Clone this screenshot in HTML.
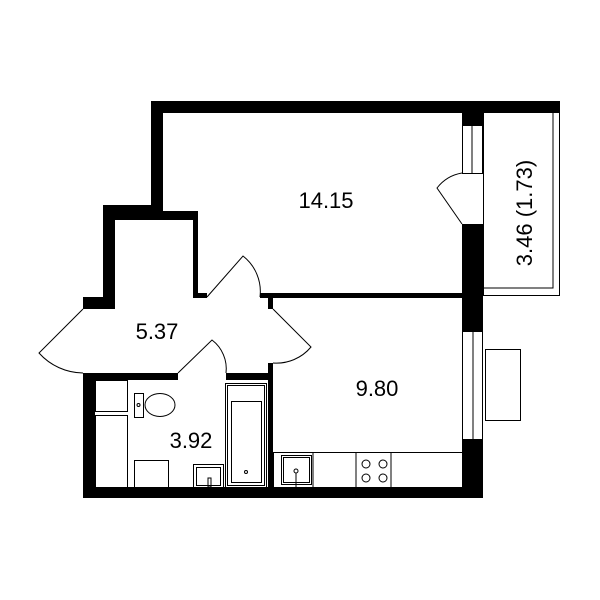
<!DOCTYPE html>
<html><head><style>html,body{margin:0;padding:0;background:#fff}svg{display:block}</style></head>
<body>
<svg width="600" height="600" viewBox="0 0 600 600" xmlns="http://www.w3.org/2000/svg">
<rect width="600" height="600" fill="#fff"/>
<g fill="#000">
<rect x="151" y="101" width="332" height="12"/>
<rect x="151" y="101" width="12" height="119"/>
<rect x="103" y="205" width="60" height="15"/>
<rect x="151" y="211" width="47" height="9"/>
<rect x="193" y="211" width="5" height="87"/>
<rect x="193" y="293" width="14" height="5"/>
<rect x="103" y="205" width="12" height="104"/>
<rect x="83" y="297" width="32" height="12"/>
<rect x="462" y="101" width="21" height="24"/>
<rect x="462" y="224" width="21" height="107"/>
<rect x="462" y="439" width="21" height="59"/>
<rect x="260" y="293" width="202" height="5"/>
<rect x="268" y="293" width="5" height="16"/>
<rect x="268" y="363" width="5" height="130"/>
<rect x="83" y="373" width="12" height="125"/>
<rect x="83" y="487" width="400" height="11"/>
<rect x="95" y="373" width="83" height="7"/>
<rect x="226" y="373" width="47" height="7"/>
<rect x="483" y="101" width="77" height="12"/>
</g>
<g fill="none" stroke="#000" stroke-width="1">
<rect x="462.5" y="125.5" width="20" height="48"/>
<line x1="472" y1="125" x2="472" y2="173"/>
<rect x="462.5" y="331.5" width="20" height="108"/>
<line x1="473" y1="331" x2="473" y2="439"/>
<rect x="483.5" y="101.5" width="76" height="194"/>
<polyline points="483,288 553,288 553,108"/>
<rect x="485.5" y="349.5" width="35" height="71"/>
<path d="M83 309 L39 353 A60 60 0 0 0 83 373"/>
<path d="M178 373 L212 340 A36 36 0 0 1 226 373"/>
<path d="M273 309 L311 347 A45 45 0 0 1 273 363"/>
<path d="M207 297 L243 256 A45 45 0 0 1 260 297"/>
<path d="M462 224 L437 188 A40 40 0 0 1 462 173"/>
<rect x="95.5" y="380.5" width="32" height="31"/>
<rect x="95.5" y="415.5" width="32" height="72"/>
<rect x="134.5" y="393.5" width="9" height="24"/>
<ellipse cx="160" cy="405" rx="15" ry="11.5"/>
<circle cx="138.5" cy="405" r="1.5"/>
<rect x="134.5" y="460.5" width="34" height="27"/>
<rect x="193.5" y="464.5" width="30" height="23"/>
<rect x="196.5" y="467.5" width="24" height="18"/>
<rect x="208" y="478" width="3" height="9"/>
<rect x="225.5" y="383.5" width="41" height="104"/>
<rect x="227.5" y="385.5" width="37" height="100"/>
<rect x="231.5" y="401.5" width="30" height="81"/>
<circle cx="246" cy="472" r="1.5"/>
<rect x="273.5" y="452.5" width="189" height="35"/>
<rect x="281.5" y="455.5" width="30" height="29"/>
<rect x="283.5" y="457.5" width="26" height="25"/>
<circle cx="296" cy="471" r="2"/>
<line x1="296" y1="473" x2="296" y2="487"/>
<line x1="313" y1="453" x2="313" y2="487"/>
<line x1="356" y1="453" x2="356" y2="487"/>
<line x1="391" y1="453" x2="391" y2="487"/>
<circle cx="366" cy="464" r="4"/>
<circle cx="383" cy="464" r="4"/>
<circle cx="366" cy="478" r="4"/>
<circle cx="383" cy="478" r="4"/>
</g>
<g font-family="Liberation Sans, sans-serif" font-size="22" fill="#000" text-anchor="middle">
<text x="326" y="208">14.15</text>
<text x="157" y="339">5.37</text>
<text x="191" y="448">3.92</text>
<text x="377" y="396">9.80</text>
<text x="0" y="0" transform="translate(532,213) rotate(-90)">3.46 (1.73)</text>
</g>
</svg>
</body></html>
